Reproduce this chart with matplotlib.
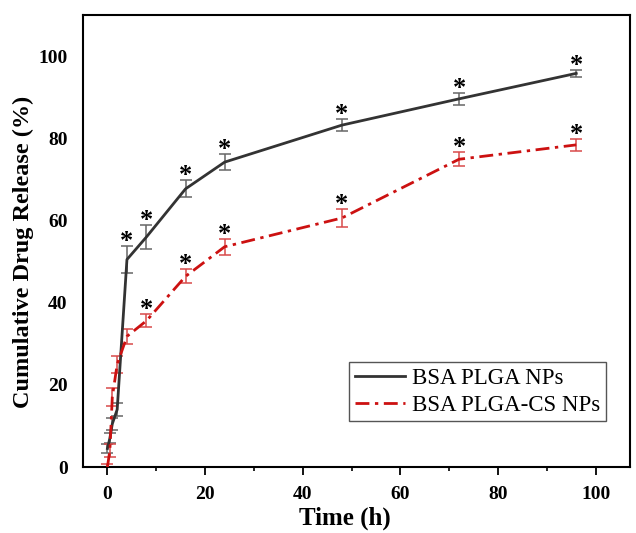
import matplotlib
matplotlib.use("Agg")
import matplotlib.pyplot as plt
import numpy as np
from matplotlib.ticker import MultipleLocator

plt.rcParams['font.family'] = ['Liberation Serif', 'DejaVu Serif']

# release data
time_h = [0, 0.5, 1, 2, 4, 8, 16, 24, 48, 72, 96]
plga = [4.5, 7.0, 10.5, 14.0, 50.5, 56.0, 67.7, 74.2, 83.2, 89.6, 95.8]
plga_err = [1.2, 1.2, 1.5, 1.6, 3.2, 3.0, 2.1, 1.9, 1.4, 1.4, 0.9]
plga_cs = [0.0, 4.0, 17.0, 25.0, 31.8, 35.6, 46.4, 53.6, 60.6, 74.9, 78.4]
plga_cs_err = [0.8, 1.5, 2.2, 2.0, 1.9, 1.6, 1.7, 2.0, 2.2, 1.7, 1.5]
# which points carry a significance star
star_plga = [4, 8, 16, 24, 48, 72, 96]
star_cs = [8, 16, 24, 48, 72, 96]

fig = plt.figure(figsize=(6.36, 5.33), dpi=100)
ax = fig.add_axes([0.1305, 0.1238, 0.86, 0.848])

cs_dash = (0, (5, 2, 1.2, 2))
ax.errorbar(time_h, plga, yerr=plga_err, fmt='none', ecolor='#666666',
            elinewidth=1.1, capsize=4, capthick=1.1, zorder=2)
ax.errorbar(time_h, plga_cs, yerr=plga_cs_err, fmt='none', ecolor='#d94a4a',
            elinewidth=1.1, capsize=4, capthick=1.1, zorder=2)
ax.plot(time_h, plga, color='#333333', lw=2, label='BSA PLGA NPs', zorder=3)
ax.plot(time_h, plga_cs, color='#cc1111', lw=2, ls=cs_dash, label='BSA PLGA-CS NPs', zorder=3)

for t, v, e in zip(time_h, plga, plga_err):
    if t in star_plga:
        ax.annotate('*', (t, v + e), xytext=(0, -1.5), textcoords='offset points',
                    ha='center', va='baseline', fontsize=19, fontweight='bold')
for t, v, e in zip(time_h, plga_cs, plga_cs_err):
    if t in star_cs:
        ax.annotate('*', (t, v + e), xytext=(0, -1.5), textcoords='offset points',
                    ha='center', va='baseline', fontsize=19, fontweight='bold')

ax.set_xlim(-5, 107)
ax.set_ylim(0, 110)
ax.xaxis.set_major_locator(MultipleLocator(20))
ax.xaxis.set_minor_locator(MultipleLocator(10))
ax.yaxis.set_major_locator(MultipleLocator(20))
ax.tick_params(axis='x', which='major', direction='out', length=6, width=1.3, labelsize=14, pad=8)
ax.tick_params(axis='x', which='minor', direction='out', length=3, width=1.2)
ax.tick_params(axis='y', which='both', length=0, labelsize=14, pad=11)
for lab in ax.get_xticklabels() + ax.get_yticklabels():
    lab.set_fontweight('bold')
for s in ax.spines.values():
    s.set_linewidth(1.5)

ax.set_xlabel('Time (h)', fontsize=18, fontweight='bold')
ax.xaxis.set_label_coords(0.479, -0.088)
ax.set_ylabel('Cumulative Drug Release (%)', fontsize=17.5, fontweight='bold')
ax.yaxis.set_label_coords(-0.09, 0.476)

leg = ax.legend(loc='upper left', bbox_to_anchor=(0.486, 0.232), fontsize=16.5,
                fancybox=False, edgecolor='#555555', framealpha=1,
                handlelength=2.2, handletextpad=0.3, borderpad=0.25,
                labelspacing=0.25, borderaxespad=0)
leg.get_frame().set_linewidth(1.0)

fig.savefig('out.png', dpi=100)
